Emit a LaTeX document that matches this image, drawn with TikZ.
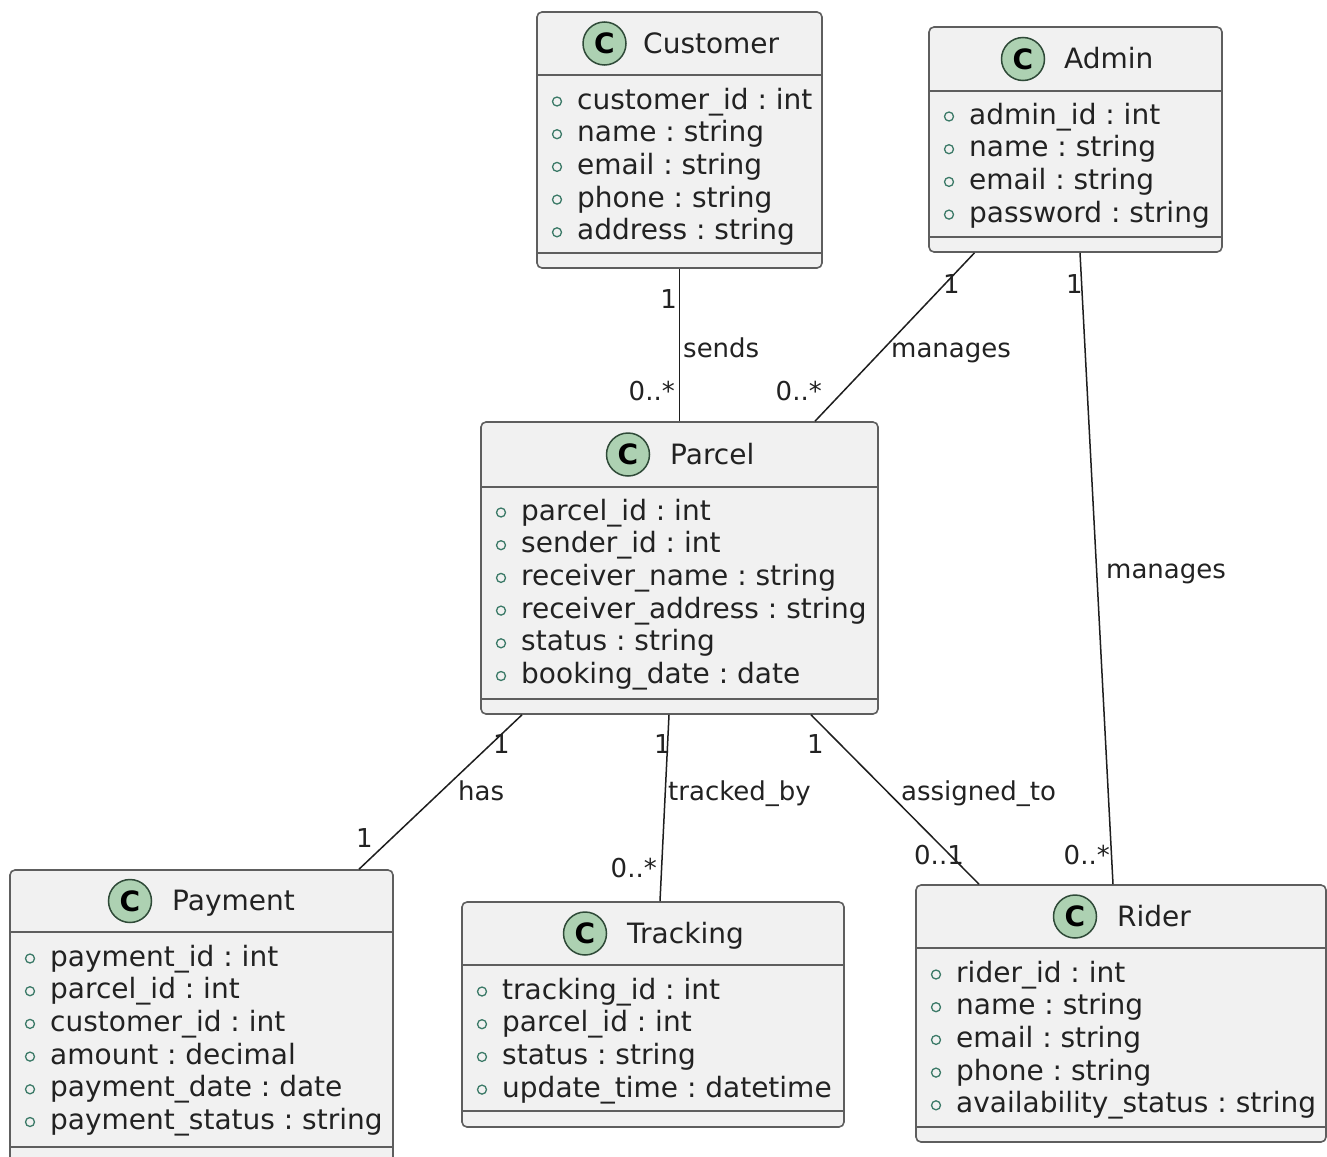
\documentclass[tikz,border=0pt]{standalone}
\usepackage{fontspec}
\setmainfont{DejaVu Sans}
\usetikzlibrary{fit}
\frenchspacing

\definecolor{boxfill}{HTML}{F1F1F1}
\definecolor{boxline}{HTML}{5E5E5E}
\definecolor{spotfill}{HTML}{ADD1B2}
\definecolor{spotline}{HTML}{2F4A38}
\definecolor{visline}{HTML}{3C7A68}
\definecolor{linkcol}{HTML}{1E1E1E}
\definecolor{txt}{HTML}{222222}

% class frame with its two compartment lines
\newcommand{\umlbox}[7]{%
  \node[umlclass, fit={(#2,#3) (#4,#5)}] (#1) {};
  \draw[compart] (#2,#6) -- (#4,#6);
  \draw[compart] (#2,#7) -- (#4,#7);
}
% class header: green "C" spot and class name
\newcommand{\umltitle}[5]{%
  \node[spot] (#1-spot) at (#2,#4) {C};
  \node[classname] (#1-name) at (#3,#4+9.5) {#5};
}
% public attributes, one per line
\newcommand{\umlmembers}[4]{%
  \foreach \m [count=\i] in {#4} {
    \node[member] (#1-m\i) at (#2+40,#3+32.7*\i-32.7) {\m};
    \node[vis] (#1-v\i) at (#2+20,#3+32.7*\i-32.7-7.5) {};
  }
}

\begin{document}
\begin{tikzpicture}[x=1pt,y=-1pt,
  umlclass/.style={draw=boxline, fill=boxfill, line width=1.6pt, rounded corners=5pt, inner sep=0pt},
  compart/.style={draw=boxline, line width=1.6pt},
  spot/.style={circle, draw=spotline, fill=spotfill, line width=1.5pt, minimum size=43pt, inner sep=0pt, text=black, font=\fontsize{28}{28}\selectfont\bfseries},
  classname/.style={anchor=base west, inner sep=0pt, text=txt, font=\fontsize{28}{33}\selectfont},
  member/.style={anchor=base west, inner sep=0pt, text=txt, font=\fontsize{28}{33}\selectfont},
  vis/.style={circle, draw=visline, line width=1.3pt, minimum size=9pt, inner sep=0pt},
  link/.style={draw=linkcol, line width=1.5pt},
  lbl/.style={inner sep=0pt, text=txt, font=\fontsize{26}{30}\selectfont},
]
\useasboundingbox (0,0) rectangle (1327,1156);
\fill[white] (0,0) rectangle (1327,1156);
\clip (0,0) rectangle (1327,1156);

% ---- classes ----
\umlbox{customer}{537}{12}{822}{268}{75}{253}
\umltitle{customer}{604.5}{643}{43.5}{Customer}
\umlmembers{customer}{537}{109}{customer\_id : int, name : string, email : string, phone : string, address : string}

\umlbox{admin}{929}{27}{1222}{252}{91}{237}
\umltitle{admin}{1023}{1064}{59}{Admin}
\umlmembers{admin}{929}{124}{admin\_id : int, name : string, email : string, password : string}

\umlbox{parcel}{481}{422}{878}{714}{487}{699}
\umltitle{parcel}{628}{670}{454.5}{Parcel}
\umlmembers{parcel}{481}{520}{parcel\_id : int, sender\_id : int, receiver\_name : string, receiver\_address : string, status : string, booking\_date : date}

\umlbox{payment}{10}{870}{393}{1168}{932}{1147}
\umltitle{payment}{130}{172}{901}{Payment}
\umlmembers{payment}{10}{966}{payment\_id : int, parcel\_id : int, customer\_id : int, amount : decimal, payment\_date : date, payment\_status : string}

\umlbox{tracking}{462}{902}{844}{1127}{965}{1111}
\umltitle{tracking}{585}{627}{933.5}{Tracking}
\umlmembers{tracking}{462}{999}{tracking\_id : int, parcel\_id : int, status : string, update\_time : datetime}

\umlbox{rider}{916}{885}{1326}{1142}{948}{1127}
\umltitle{rider}{1075}{1117}{916.5}{Rider}
\umlmembers{rider}{916}{982}{rider\_id : int, name : string, email : string, phone : string, availability\_status : string}

% ---- associations ----
\draw[link] (customer.south) -- (parcel.north);
\draw[link] ([xshift=-101pt]admin.south) -- ([xshift=135.5pt]parcel.north);
\draw[link] ([xshift=4.5pt]admin.south) -- ([xshift=-8pt]rider.north);
\draw[link] ([xshift=-157.5pt]parcel.south) -- ([xshift=157.5pt]payment.north);
\draw[link] ([xshift=-10.5pt]parcel.south) -- ([xshift=7pt]tracking.north);
\draw[link] ([xshift=131.5pt]parcel.south) -- ([xshift=-142pt]rider.north);

% ---- association labels and multiplicities ----
\node[lbl, anchor=base east] (sends-m1) at (677,308) {1};
\node[lbl, anchor=base east] (sends-m2) at (675,400) {0..*};
\node[lbl, anchor=base west] (sends-l) at (683,357) {sends};

\node[lbl, anchor=base west] (mp-m1) at (943,293) {1};
\node[lbl, anchor=base east] (mp-m2) at (822,400) {0..*};
\node[lbl, anchor=base west] (mp-l) at (891,357) {manages};

\node[lbl, anchor=base west] (mr-m1) at (1066,293) {1};
\node[lbl, anchor=base west] (mr-l) at (1106,578) {manages};
\node[lbl, anchor=base east] (mr-m2) at (1110,864) {0..*};

\node[lbl, anchor=base west] (has-m1) at (493,753) {1};
\node[lbl, anchor=base west] (has-l) at (458,800) {has};
\node[lbl, anchor=base west] (has-m2) at (356,847) {1};

\node[lbl, anchor=base west] (tb-m1) at (654,753) {1};
\node[lbl, anchor=base west] (tb-l) at (668,800) {tracked\_by};
\node[lbl, anchor=base east] (tb-m2) at (657,877) {0..*};

\node[lbl, anchor=base west] (at-m1) at (807,753) {1};
\node[lbl, anchor=base west] (at-l) at (901,800) {assigned\_to};
\node[lbl, anchor=base west] (at-m2) at (914,864) {0..1};
\end{tikzpicture}
\end{document}
